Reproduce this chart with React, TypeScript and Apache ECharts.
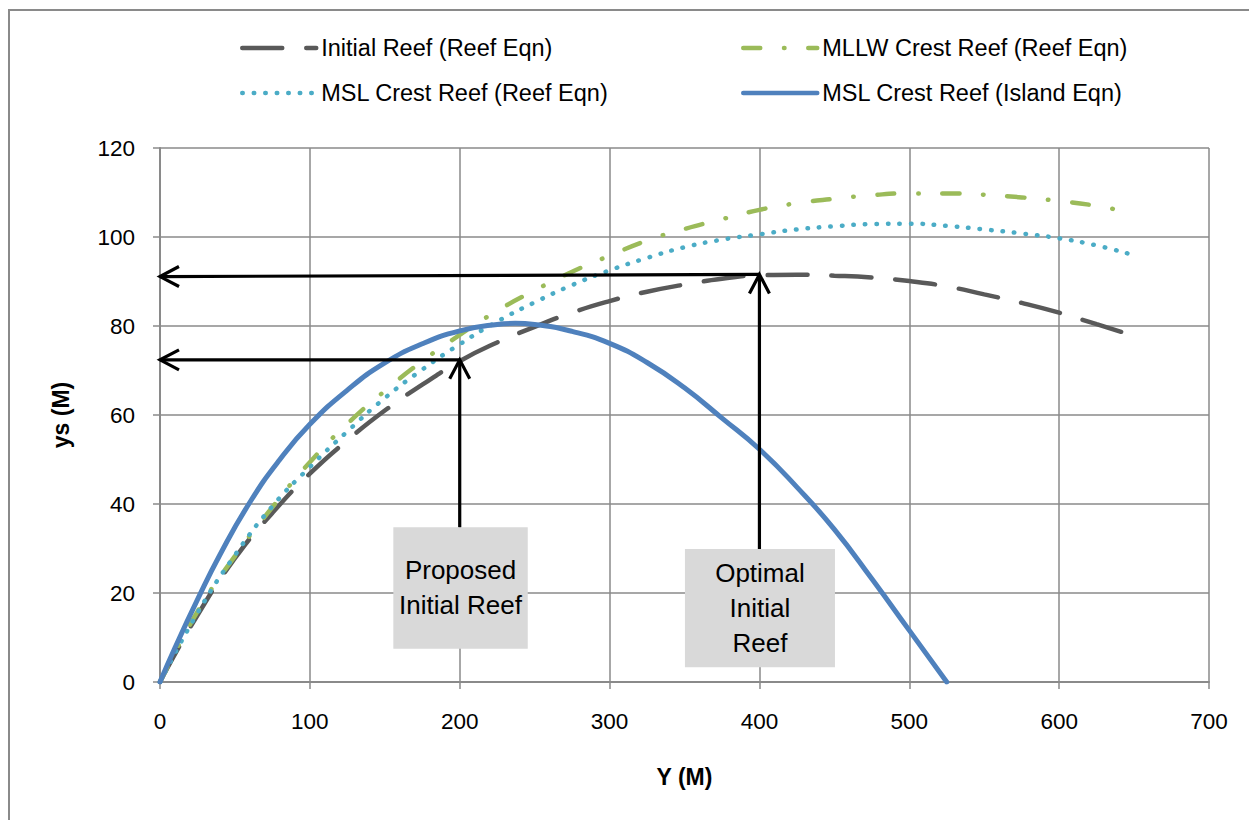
import React, { useEffect, useRef } from "react";
import * as echarts from "echarts";

// ---- data ----
const reefX = [0, 25, 50, 75, 100, 125, 150, 175, 200, 225, 250, 275, 300, 325, 350, 375, 400, 425, 450, 475, 500, 525, 550, 575, 600, 625, 650];
const initialReef = [0, 15, 27.8, 38, 46.8, 54.3, 61, 66.8, 72.1, 76.3, 79.8, 83, 85.6, 87.7, 89.3, 90.6, 91.4, 91.5, 91.3, 90.9, 90.1, 88.9, 87.1, 85.2, 83, 80.4, 77.8];
const mslReef = [0, 15.5, 28.5, 39.5, 48.3, 56.3, 63.8, 70.2, 75.9, 81, 85.3, 89.2, 92.5, 95.3, 97.7, 99.4, 100.6, 101.7, 102.4, 102.9, 103, 102.5, 101.7, 100.8, 99.7, 98.1, 95.9];
const mllwX = [0, 25, 50, 75, 100, 125, 150, 175, 200, 225, 250, 275, 300, 325, 350, 375, 400, 425, 450, 475, 500, 525, 550, 575, 600, 625, 640];
const mllwReef = [0, 15.8, 28.3, 39.3, 49.4, 58, 65.4, 72.1, 78, 83.4, 88, 92.2, 95.8, 99.2, 101.8, 104, 106.1, 107.6, 108.6, 109.4, 109.8, 109.8, 109.5, 108.9, 108.1, 107, 106];
const islandX = [0, 10, 25, 40, 60, 80, 100, 125, 150, 175, 200, 225, 237, 250, 275, 300, 325, 350, 375, 400, 425, 450, 475, 500, 525];
const islandEqn = [0, 7.7, 18.5, 28.6, 40.4, 50, 57.9, 65.6, 71.7, 76, 78.9, 80.35, 80.6, 80.35, 78.8, 76.1, 71.8, 66.1, 59.3, 52.3, 43.8, 34.3, 23.2, 11.6, 0];

const seriesNames = [
  "Initial Reef (Reef Eqn)",
  "MLLW Crest Reef (Reef Eqn)",
  "MSL Crest Reef (Reef Eqn)",
  "MSL Crest Reef (Island Eqn)",
];

// annotation arrows: [fromX, fromY, toX, toY] (head at "to")
const arrows = [
  [400, 91.6, 0, 91.1],
  [200, 72.4, 0, 72.4],
  [200, 34.8, 200, 72.4],
  [400, 29.9, 400, 91.6],
];
// annotation boxes: [xLeft, xRight, yTop, yBottom]
const noteBoxes = [
  [155.7, 245.4, 34.8, 7.5],
  [350.3, 450.4, 29.9, 3.3],
];
const noteTexts = ["Proposed\nInitial Reef", "Optimal\nInitial\nReef"];

const FONT = "'Liberation Sans', Arial, sans-serif";

const pair = (xs: number[], ys: number[]) => xs.map((x, i) => [x, ys[i]]);

export default function App() {
  const ref = useRef<HTMLDivElement>(null);
  useEffect(() => {
    if (!ref.current) return;
    const chart = echarts.init(ref.current, undefined, { renderer: "svg" });
    const legendBase = {
      padding: 0,
      itemWidth: 74,
      itemHeight: 14,
      textStyle: { fontFamily: FONT, fontSize: 23.5, color: "#000" },
      itemStyle: { opacity: 0 },
      lineStyle: { width: 4.5 },
      selectedMode: false,
    };
    const option: any = {
      animation: false,
      backgroundColor: "#fff",
      graphic: [
        {
          type: "rect",
          shape: { x: 9, y: 10, width: 1280, height: 850 },
          style: { fill: "none", stroke: "#8a8a8a", lineWidth: 2 },
          silent: true,
        },
      ],
      legend: [
        { ...legendBase, data: [seriesNames[0]], left: 240, top: 36 },
        { ...legendBase, data: [seriesNames[1]], left: 741, top: 36 },
        { ...legendBase, data: [seriesNames[2]], left: 240, top: 81 },
        { ...legendBase, data: [seriesNames[3]], left: 741, top: 81 },
      ],
      grid: { left: 160, right: 40, top: 148, bottom: 138 },
      xAxis: {
        type: "value",
        min: 0,
        max: 700,
        interval: 100,
        name: "Y (M)",
        nameLocation: "middle",
        nameGap: 83,
        nameTextStyle: { fontFamily: FONT, fontSize: 23, fontWeight: "bold", color: "#000" },
        axisLine: { show: true, lineStyle: { color: "#8a8a8a", width: 2 } },
        axisTick: { show: true, length: 7, lineStyle: { color: "#8a8a8a", width: 1.5 } },
        axisLabel: { margin: 28, fontFamily: FONT, fontSize: 22.5, color: "#000" },
        splitLine: { show: true, lineStyle: { color: "#8a8a8a", width: 1.5 } },
      },
      yAxis: {
        type: "value",
        min: 0,
        max: 120,
        interval: 20,
        name: "ys (M)",
        nameLocation: "middle",
        nameGap: 88,
        nameTextStyle: { fontFamily: FONT, fontSize: 23, fontWeight: "bold", color: "#000" },
        axisLine: { show: true, lineStyle: { color: "#8a8a8a", width: 2 } },
        axisTick: { show: true, length: 7, lineStyle: { color: "#8a8a8a", width: 1.5 } },
        axisLabel: { margin: 25, fontFamily: FONT, fontSize: 22.5, color: "#000" },
        splitLine: { show: true, lineStyle: { color: "#8a8a8a", width: 1.5 } },
      },
      series: [
        {
          name: seriesNames[0],
          type: "line",
          data: pair(reefX, initialReef),
          smooth: true,
          symbol: "none",
          itemStyle: { color: "#595959" },
          lineStyle: { color: "#595959", width: 4.5, type: [40, 24], cap: "round" },
          z: 2,
        },
        {
          name: seriesNames[1],
          type: "line",
          data: pair(mllwX, mllwReef),
          smooth: true,
          symbol: "none",
          itemStyle: { color: "#9BBB59" },
          lineStyle: { color: "#9BBB59", width: 4.5, type: [17, 23.75, 0.5, 23.75], cap: "round" },
          z: 2,
        },
        {
          name: seriesNames[2],
          type: "line",
          data: pair(reefX, mslReef),
          smooth: true,
          symbol: "none",
          itemStyle: { color: "#4BACC6" },
          lineStyle: { color: "#4BACC6", width: 4.5, type: [0.5, 11], cap: "round" },
          z: 2,
        },
        {
          name: seriesNames[3],
          type: "line",
          data: pair(islandX, islandEqn),
          smooth: true,
          symbol: "none",
          itemStyle: { color: "#4F81BD" },
          lineStyle: { color: "#4F81BD", width: 5, cap: "round" },
          z: 2,
        },
        {
          type: "custom",
          name: "notes",
          data: noteBoxes,
          encode: { x: [0, 1], y: [2, 3] },
          z: 5,
          silent: true,
          renderItem: (params: any, api: any) => {
            const p1 = api.coord([api.value(0), api.value(2)]);
            const p2 = api.coord([api.value(1), api.value(3)]);
            return {
              type: "group",
              children: [
                {
                  type: "rect",
                  shape: { x: p1[0], y: p1[1], width: p2[0] - p1[0], height: p2[1] - p1[1] },
                  style: { fill: "#D9D9D9" },
                },
                {
                  type: "text",
                  x: (p1[0] + p2[0]) / 2,
                  y: (p1[1] + p2[1]) / 2,
                  style: {
                    text: noteTexts[params.dataIndex],
                    align: "center",
                    verticalAlign: "middle",
                    fontFamily: FONT,
                    fontSize: 26,
                    lineHeight: 35,
                    fill: "#000",
                  },
                },
              ],
            };
          },
        },
        {
          type: "custom",
          name: "arrows",
          data: arrows,
          encode: { x: [0, 2], y: [1, 3] },
          z: 6,
          silent: true,
          renderItem: (params: any, api: any) => {
            const a = api.coord([api.value(0), api.value(1)]);
            const b = api.coord([api.value(2), api.value(3)]);
            const dx = b[0] - a[0];
            const dy = b[1] - a[1];
            const len = Math.sqrt(dx * dx + dy * dy) || 1;
            const ux = dx / len;
            const uy = dy / len;
            const nx = -uy;
            const ny = ux;
            const L = 19;
            const W = 10;
            const bx = b[0] - ux * L;
            const by = b[1] - uy * L;
            return {
              type: "group",
              children: [
                {
                  type: "line",
                  shape: { x1: a[0], y1: a[1], x2: b[0], y2: b[1] },
                  style: { stroke: "#000", lineWidth: 3.2 },
                },
                {
                  type: "polyline",
                  shape: {
                    points: [
                      [bx + nx * W, by + ny * W],
                      [b[0], b[1]],
                      [bx - nx * W, by - ny * W],
                    ],
                  },
                  style: { stroke: "#000", lineWidth: 3.2, fill: "none" },
                },
              ],
            };
          },
        },
      ],
    };
    chart.setOption(option);
    return () => chart.dispose();
  }, []);
  return (
    <div
      ref={ref}
      style={{ position: "absolute", left: 0, top: 0, width: 1249, height: 820, background: "#fff" }}
    />
  );
}
